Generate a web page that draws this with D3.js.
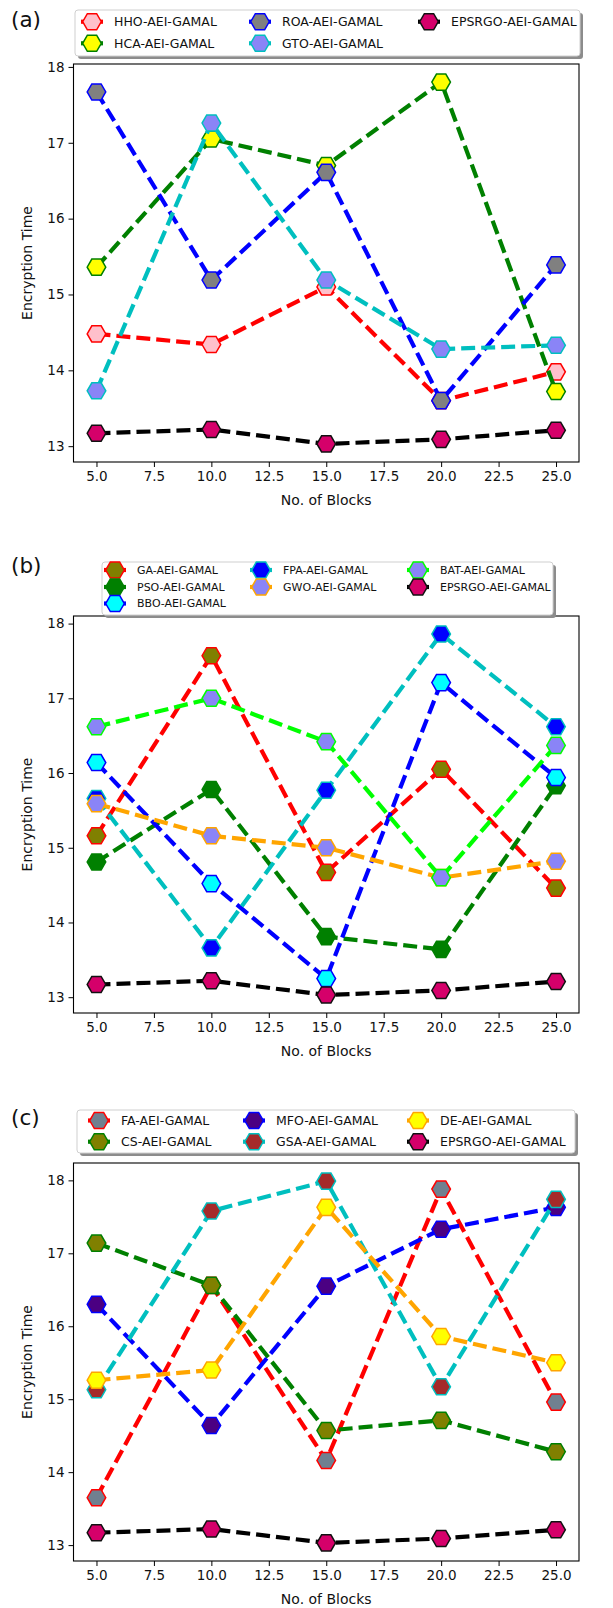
<!DOCTYPE html>
<html><head><meta charset="utf-8">
<script src="https://cdn.jsdelivr.net/npm/d3@7"></script>
<style>
body{margin:0;background:#fff}
svg{display:block}
text{font-family:"DejaVu Sans",sans-serif;fill:#111}
</style>
</head><body>
<svg id="chart" width="613" height="1608"></svg>
<script>
// Number of blocks on the x axis and tick values
const blocks = [5, 10, 15, 20, 25];
const xTickValues = [5, 7.5, 10, 12.5, 15, 17.5, 20, 22.5, 25];
const yTickValues = [13, 14, 15, 16, 17, 18];

// Proposed method (same in all three panels)
const epsrgo = [13.17, 13.22, 13.03, 13.09, 13.21];

// Panel (a)
const hhoA = [14.48, 14.34, 15.10, 13.60, 13.98];
const hcaA = [15.36, 17.05, 16.70, 17.80, 13.72];
const roaA = [17.67, 15.19, 16.61, 13.60, 15.39];
const gtoA = [13.73, 17.26, 15.19, 14.28, 14.33];

// Panel (b)
const gaB  = [15.16, 17.57, 14.67, 16.05, 14.46];
const psoB = [14.81, 15.78, 13.81, 13.64, 15.83];
const bboB = [16.14, 14.52, 13.25, 17.21, 15.94];
const fpaB = [15.66, 13.66, 15.77, 17.86, 16.62];
const gwoB = [15.59, 15.16, 15.00, 14.60, 14.82];
const batB = [16.62, 17.00, 16.42, 14.60, 16.37];

// Panel (c)
const faC  = [13.65, 16.56, 14.16, 17.88, 14.96];
const csC  = [17.14, 16.56, 14.57, 14.71, 14.28];
const mfoC = [16.30, 14.64, 16.55, 17.33, 17.63];
const gsaC = [15.13, 17.58, 17.99, 15.17, 17.74];
const deC  = [15.26, 15.40, 17.63, 15.86, 15.50];

const EPS = {name: "EPSRGO-AEI-GAMAL", values: epsrgo, line: "#000000", fill: "#d5006a", edge: "#111111"};
const SLATE = "#8a84f7";

const panels = [
  {
    tag: "(a)", tagY: 21, top: 64, bottom: 462, legendFont: 12.5,
    legend: {x: 75, y: 10, w: 505, h: 46, cols: [114, 282, 451], rows: [21.7, 43.3], colSizes: [2, 2, 1]},
    series: [
      {name: "HHO-AEI-GAMAL", values: hhoA, line: "#ff0000", fill: "#ffc0cb", edge: "#ff0000"},
      {name: "HCA-AEI-GAMAL", values: hcaA, line: "#008000", fill: "#ffff00", edge: "#008000"},
      {name: "ROA-AEI-GAMAL", values: roaA, line: "#0000ff", fill: "#808080", edge: "#0000ff"},
      {name: "GTO-AEI-GAMAL", values: gtoA, line: "#00bfbf", fill: SLATE, edge: "#00bfbf"},
      EPS
    ]
  },
  {
    tag: "(b)", tagY: 567, top: 616, bottom: 1013, legendFont: 11,
    legend: {x: 102, y: 562, w: 451, h: 53, cols: [137, 283, 440], rows: [570, 587, 603.5], colSizes: [3, 2, 2]},
    series: [
      {name: "GA-AEI-GAMAL",  values: gaB,  line: "#ff0000", fill: "#808000", edge: "#ff0000"},
      {name: "PSO-AEI-GAMAL", values: psoB, line: "#008000", fill: "#008000", edge: "#008000"},
      {name: "BBO-AEI-GAMAL", values: bboB, line: "#0000ff", fill: "#00ffff", edge: "#0000ff"},
      {name: "FPA-AEI-GAMAL", values: fpaB, line: "#00bfbf", fill: "#0000ff", edge: "#00bfbf"},
      {name: "GWO-AEI-GAMAL", values: gwoB, line: "#ffa500", fill: SLATE, edge: "#ffa500"},
      {name: "BAT-AEI-GAMAL", values: batB, line: "#00ff00", fill: SLATE, edge: "#00ff00"},
      EPS
    ]
  },
  {
    tag: "(c)", tagY: 1119, top: 1163, bottom: 1561, legendFont: 12.5,
    legend: {x: 77, y: 1110, w: 498, h: 43, cols: [121, 276, 440], rows: [1120.5, 1141.7], colSizes: [2, 2, 2]},
    series: [
      {name: "FA-AEI-GAMAL",  values: faC,  line: "#ff0000", fill: "#708090", edge: "#ff0000"},
      {name: "CS-AEI-GAMAL",  values: csC,  line: "#008000", fill: "#808000", edge: "#008000"},
      {name: "MFO-AEI-GAMAL", values: mfoC, line: "#0000ff", fill: "#4b0082", edge: "#0000ff"},
      {name: "GSA-AEI-GAMAL", values: gsaC, line: "#00bfbf", fill: "#a52a2a", edge: "#00bfbf"},
      {name: "DE-AEI-GAMAL",  values: deC,  line: "#ffa500", fill: "#ffff00", edge: "#ffa500"},
      EPS
    ]
  }
];

// flat-topped hexagon marker as a custom d3 symbol type
const hexagon = {
  draw(ctx, size) {
    const r = Math.sqrt(size / (1.5 * Math.sqrt(3)));
    for (let i = 0; i < 6; i++) {
      const a = Math.PI / 3 * i;
      const px = r * Math.cos(a), py = r * Math.sin(a);
      if (i === 0) ctx.moveTo(px, py); else ctx.lineTo(px, py);
    }
    ctx.closePath();
  }
};
const markerR = 9.3;
const hexPath = d3.symbol().type(hexagon).size(1.5 * Math.sqrt(3) * markerR * markerR)();

const svg = d3.select("#chart");
const left = 73.5, right = 579;
const lineW = 4.2, dash = "14,6";

panels.forEach(p => {
  const g = svg.append("g");
  const all = p.series.flatMap(s => s.values);
  const lo = d3.min(all), hi = d3.max(all), pad = (hi - lo) * 0.05;
  const x = d3.scaleLinear().domain([4, 26]).range([left, right]);
  const y = d3.scaleLinear().domain([lo - pad, hi + pad]).range([p.bottom, p.top]);

  // x axis
  const xa = g.append("g").attr("transform", `translate(0,${p.bottom})`)
    .call(d3.axisBottom(x).tickValues(xTickValues).tickFormat(d3.format(".1f")).tickSizeOuter(0).tickSize(5).tickPadding(4));
  xa.select(".domain").remove();
  xa.selectAll("text").attr("font-size", 13.5).attr("font-family", "DejaVu Sans");
  xa.selectAll("line").attr("stroke", "#000").attr("stroke-width", 1);

  // y axis
  const ya = g.append("g").attr("transform", `translate(${left},0)`)
    .call(d3.axisLeft(y).tickValues(yTickValues).tickFormat(d3.format("d")).tickSizeOuter(0).tickSize(5).tickPadding(4));
  ya.select(".domain").remove();
  ya.selectAll("text").attr("font-size", 13.5).attr("font-family", "DejaVu Sans");
  ya.selectAll("line").attr("stroke", "#000").attr("stroke-width", 1);

  // axis titles
  g.append("text").attr("x", (left + right) / 2).attr("y", p.bottom + 43)
    .attr("text-anchor", "middle").attr("font-size", 14).text("No. of Blocks");
  g.append("text").attr("transform", `translate(28,${(p.top + p.bottom) / 2}) rotate(-90)`)
    .attr("text-anchor", "middle").attr("dominant-baseline", "middle").attr("font-size", 14).text("Encryption Time");

  // panel tag
  g.append("text").attr("x", 11).attr("y", p.tagY).attr("dominant-baseline", "middle")
    .attr("font-family", "Liberation Sans, Arial, sans-serif").attr("font-size", 21.5).text(p.tag);

  // series: dashed line followed by its markers
  const lineGen = d3.line().x((d, i) => x(blocks[i])).y(d => y(d));
  const plot = g.append("g");
  p.series.forEach(s => {
    const sg = plot.append("g");
    sg.append("path").datum(s.values).attr("d", lineGen)
      .attr("fill", "none").attr("stroke", s.line).attr("stroke-width", lineW)
      .attr("stroke-dasharray", dash).attr("stroke-linejoin", "round");
    sg.selectAll("path.m").data(s.values).join("path").attr("class", "m")
      .attr("d", hexPath)
      .attr("transform", (d, i) => `translate(${x(blocks[i])},${y(d)})`)
      .attr("fill", s.fill).attr("stroke", s.edge).attr("stroke-width", 1.5);
  });

  // axes frame
  g.append("rect").attr("x", left).attr("y", p.top).attr("width", right - left).attr("height", p.bottom - p.top)
    .attr("fill", "none").attr("stroke", "#000").attr("stroke-width", 1.1);

  // legend with drop shadow, filled column by column
  const L = p.legend;
  const slots = L.colSizes.flatMap((n, c) => d3.range(n).map(r => [c, r]));
  const lg = g.append("g");
  lg.append("rect").attr("x", L.x + 3).attr("y", L.y + 3).attr("width", L.w).attr("height", L.h)
    .attr("rx", 3).attr("fill", "#8c8c8c");
  lg.append("rect").attr("x", L.x).attr("y", L.y).attr("width", L.w).attr("height", L.h)
    .attr("rx", 3).attr("fill", "#fff").attr("stroke", "#cfcfcf").attr("stroke-width", 1);
  p.series.forEach((s, k) => {
    const [col, row] = slots[k];
    const tx = L.cols[col], ty = L.rows[row];
    const mx = tx - 22;
    lg.append("line").attr("x1", mx - 11).attr("x2", mx + 11).attr("y1", ty).attr("y2", ty)
      .attr("stroke", s.line).attr("stroke-width", lineW);
    lg.append("path").attr("d", hexPath).attr("transform", `translate(${mx},${ty})`)
      .attr("fill", s.fill).attr("stroke", s.edge).attr("stroke-width", 1.5);
    lg.append("text").attr("x", tx).attr("y", ty).attr("dominant-baseline", "central")
      .attr("font-size", p.legendFont).text(s.name);
  });
});
</script>
</body></html>
